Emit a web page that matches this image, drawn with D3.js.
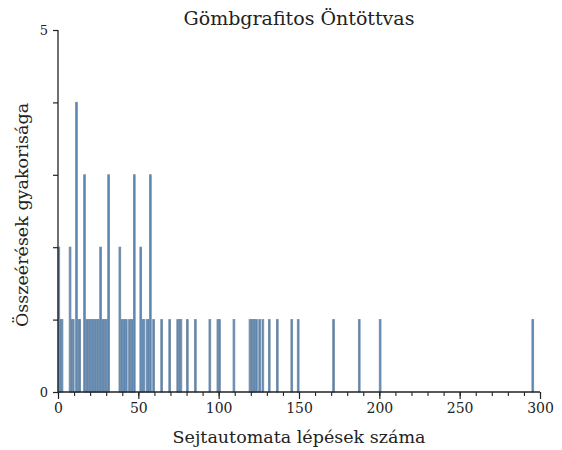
<!DOCTYPE html>
<html>
<head>
<meta charset="utf-8">
<script src="https://cdn.jsdelivr.net/npm/d3@7"></script>
<style>
  html, body { margin: 0; padding: 0; background: #fff; }
  text { font-family: "DejaVu Serif", "Liberation Serif", serif; fill: #222; }
</style>
</head>
<body>
<svg id="chart" width="562" height="450"></svg>
<script>
// Data: step counts (bin start) and frequencies
const steps = [0, 1, 2, 7, 8, 9, 11, 12, 13, 16, 17, 18, 19, 20, 21, 22, 23, 24, 25, 26, 27, 28, 29, 30, 31,
  38, 39, 40, 41, 42, 44, 45, 46, 47, 51, 52, 53, 55, 56, 57, 59,
  64, 69, 74, 75, 76, 80, 85, 94, 99, 100, 109, 119, 120, 121, 122, 123, 125, 127, 131, 136, 145, 149,
  171, 187, 200, 295];
const counts = [2, 1, 1, 2, 1, 1, 4, 1, 1, 3, 1, 1, 1, 1, 1, 1, 1, 1, 1, 2, 1, 1, 1, 1, 3,
  2, 1, 1, 1, 1, 1, 1, 1, 3, 2, 1, 1, 1, 1, 3, 1,
  1, 1, 1, 1, 1, 1, 1, 1, 1, 1, 1, 1, 1, 1, 1, 1, 1, 1, 1, 1, 1, 1,
  1, 1, 1, 1];
const xTicks = [0, 50, 100, 150, 200, 250, 300];
const xMinorTicks = d3.range(0, 301, 10);
const yTicks = [0, 1, 2, 3, 4, 5];
const yTickLabels = ["0", "", "", "", "", "5"];
const title = "Gömbgrafitos Öntöttvas";
const xLabel = "Sejtautomata lépések száma";
const yLabel = "Összeérések gyakorisága";

const data = steps.map((s, i) => ({ step: s, count: counts[i] }));

const svg = d3.select("#chart");
const margin = { left: 58, right: 22, top: 30, bottom: 58 };
const W = 562, H = 450;
const x = d3.scaleLinear().domain([0, 300]).range([margin.left, W - margin.right]);
const y = d3.scaleLinear().domain([0, 5]).range([H - margin.bottom, margin.top]);

// bars
svg.append("g").selectAll("rect").data(data).join("rect")
  .attr("x", d => x(d.step))
  .attr("y", d => y(d.count))
  .attr("width", d => x(d.step + 1) - x(d.step))
  .attr("height", d => y(0) - y(d.count))
  .attr("fill", "#4f82b6")
  .attr("stroke", "#7590ac")
  .attr("stroke-width", 1);

// x axis
const xAxis = svg.append("g").attr("transform", `translate(0,${y(0)})`);
xAxis.call(d3.axisBottom(x).tickValues(xMinorTicks).tickSize(4).tickFormat(""))
  .call(g => g.select(".domain").remove())
  .call(g => g.selectAll("line").attr("stroke", "#222").attr("stroke-width", 1.1));
const xMajor = svg.append("g").attr("transform", `translate(0,${y(0)})`)
  .call(d3.axisBottom(x).tickValues(xTicks).tickSize(7).tickPadding(4).tickFormat(d3.format("d")));
xMajor.select(".domain").attr("stroke", "#222").attr("stroke-width", 1.3).attr("d", `M${x(0)},0H${x(300)}`);
xMajor.selectAll("line").attr("stroke", "#222").attr("stroke-width", 1.2);
xMajor.selectAll("text").attr("font-size", 14).style("font-family", "'DejaVu Serif', serif").attr("fill", "#333");

// y axis
const yAxis = svg.append("g").attr("transform", `translate(${x(0)},0)`)
  .call(d3.axisLeft(y).tickValues(yTicks).tickSize(5).tickPadding(5).tickFormat((d, i) => yTickLabels[i]));
yAxis.select(".domain").attr("stroke", "#222").attr("stroke-width", 1.3).attr("d", `M0,${y(0)}V${y(5)}`);
yAxis.selectAll("line").attr("stroke", "#222").attr("stroke-width", 1.2);
yAxis.selectAll("text").attr("font-size", 13).style("font-family", "'DejaVu Serif', serif").attr("fill", "#333");

// title
svg.append("text").attr("x", (x(0) + x(300)) / 2).attr("y", 25)
  .attr("text-anchor", "middle").attr("font-size", 19).text(title);
// x label
svg.append("text").attr("x", (x(0) + x(300)) / 2).attr("y", 443)
  .attr("text-anchor", "middle").attr("font-size", 17.5).text(xLabel);
// y label
svg.append("text").attr("transform", `translate(28,${(y(0) + y(5)) / 2 + 4}) rotate(-90)`)
  .attr("text-anchor", "middle").attr("font-size", 17.5).text(yLabel);
</script>
</body>
</html>
